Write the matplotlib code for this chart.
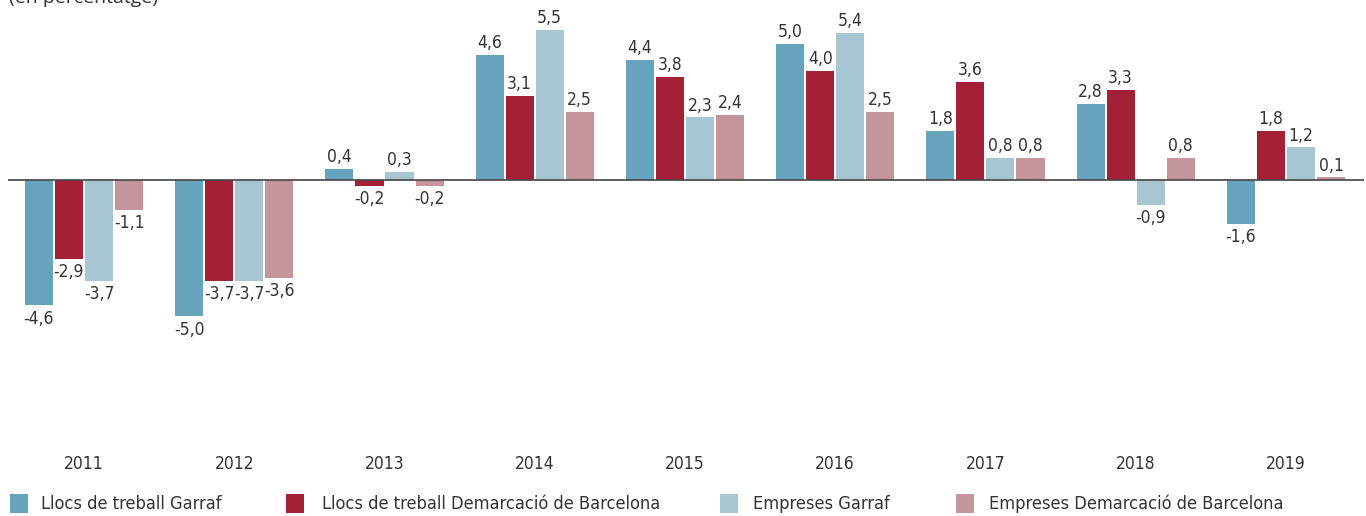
import matplotlib
matplotlib.use("Agg")
import matplotlib.pyplot as plt
import numpy as np
from matplotlib.patches import Rectangle

years = ["2011", "2012", "2013", "2014", "2015", "2016", "2017", "2018", "2019"]
series_names = ["Llocs de treball Garraf", "Llocs de treball Demarcació de Barcelona",
                "Empreses Garraf", "Empreses Demarcació de Barcelona"]
llocs_garraf = [-4.6, -5.0, 0.4, 4.6, 4.4, 5.0, 1.8, 2.8, -1.6]
llocs_bcn = [-2.9, -3.7, -0.2, 3.1, 3.8, 4.0, 3.6, 3.3, 1.8]
empreses_garraf = [-3.7, -3.7, 0.3, 5.5, 2.3, 5.4, 0.8, -0.9, 1.2]
empreses_bcn = [-1.1, -3.6, -0.2, 2.5, 2.4, 2.5, 0.8, 0.8, 0.1]
colors = ["#66A3BD", "#A32036", "#A7C6D1", "#C4959B"]

plt.rcParams['font.family'] = ['DejaVu Sans']
FONT = dict(family='DejaVu Sans', stretch='condensed')

W, H = 1366, 516
fig = plt.figure(figsize=(W/100, H/100), dpi=100)
ax_left, ax_right = 8, 1364
ax_top, ax_bottom = 10, 445
ax = fig.add_axes([ax_left/W, 1 - ax_bottom/H, (ax_right-ax_left)/W, (ax_bottom-ax_top)/H])

x = np.arange(len(years))
all_series = [llocs_garraf, llocs_bcn, empreses_garraf, empreses_bcn]
offsets = [-0.3, -0.1, 0.1, 0.3]
width = 0.187
for vals, off, col in zip(all_series, offsets, colors):
    ax.bar(x + off, vals, width=width, color=col, zorder=2)
    for xi, v in zip(x + off, vals):
        lab = f"{v:.1f}".replace(".", ",")
        if v >= 0:
            ax.annotate(lab, (xi, v), xytext=(0, 2), textcoords='offset points',
                        ha='center', va='bottom', fontsize=12.5, color='#333333', **FONT)
        else:
            ax.annotate(lab, (xi, v), xytext=(0, -3), textcoords='offset points',
                        ha='center', va='top', fontsize=12.5, color='#333333', **FONT)

ax.axhline(0, color='#444444', lw=1.2, zorder=3)
ax.set_xlim(-0.506, 8.52)
ax.set_ylim(-9.72, 6.24)
for s in ax.spines.values():
    s.set_visible(False)
ax.set_yticks([])
ax.set_xticks(x)
ax.set_xticklabels(years, fontsize=12.5, color='#333333', **FONT)
ax.tick_params(axis='x', length=0, pad=7)

fig.text(9/W, 1 - 3/H, "(en percentatge)", ha='left', va='baseline', fontsize=14,
         color='#333333', family='Open Sans')

# legend
sq_x = [10, 286, 720, 956]
tx_x = [41, 322, 753, 989]
for sx, tx, col, name in zip(sq_x, tx_x, colors, series_names):
    fig.patches.append(Rectangle((sx/W, 1 - 513/H), 18/W, 19/H, transform=fig.transFigure,
                                 facecolor=col, edgecolor='none'))
    fig.text(tx/W, 1 - 504/H, name, ha='left', va='center', fontsize=13.1,
             color='#333333', **FONT)

fig.savefig("out.png", dpi=100)
